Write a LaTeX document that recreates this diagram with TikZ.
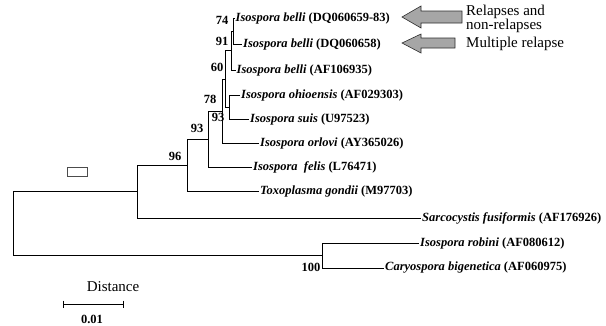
\documentclass[tikz,border=0pt]{standalone}
\usepackage{fontspec}
\setmainfont{Liberation Serif}
\begin{document}
\begin{tikzpicture}[x=1pt,y=-1pt,
  br/.style={line width=0.8pt},
  leaf/.style={anchor=west,inner sep=1pt,font=\fontsize{12.5}{14}\selectfont\bfseries},
  bs/.style={inner sep=0pt,font=\fontsize{12.5}{13}\selectfont\bfseries},
  bigarrow/.style={fill=gray!70,draw=gray!35!black,line width=0.6pt},
  side/.style={anchor=west,align=left,inner sep=0pt,font=\fontsize{15}{11}\selectfont}]
\useasboundingbox (0,0) rectangle (606,325);

% leaves
\node[leaf] (b1)   at (234.5,18)  {\textit{Isospora belli} (DQ060659-83)};
\node[leaf] (b2)   at (242,44)    {\textit{Isospora belli} (DQ060658)};
\node[leaf] (b3)   at (235.5,70)  {\textit{Isospora belli} (AF106935)};
\node[leaf] (ohio) at (240,95)    {\textit{Isospora ohioensis} (AF029303)};
\node[leaf] (suis) at (249,119)   {\textit{Isospora suis} (U97523)};
\node[leaf] (orl)  at (259,143)   {\textit{Isospora orlovi} (AY365026)};
\node[leaf] (fel)  at (252,167)   {\textit{Isospora\ \ felis} (L76471)};
\node[leaf] (tox)  at (259,191)   {\textit{Toxoplasma gondii} (M97703)};
\node[leaf] (sar)  at (421,218)   {\textit{Sarcocystis fusiformis} (AF176926)};
\node[leaf] (rob)  at (419,243)   {\textit{Isospora robini} (AF080612)};
\node[leaf] (car)  at (384,268)   {\textit{Caryospora bigenetica} (AF060975)};

% internal nodes
\coordinate (n74)  at (233,31);
\coordinate (n91)  at (231.5,50.5);
\coordinate (nos)  at (229,107);
\coordinate (nx)   at (225,79);
\coordinate (n93i) at (222,111);
\coordinate (n93)  at (208.5,139);
\coordinate (n96)  at (187,165);
\coordinate (n137) at (137,191.5);
\coordinate (n100) at (322,255.5);
\coordinate (root) at (13,223.5);

% branches
\draw[br] (n74) |- (b1.west);
\draw[br] (n74) |- (b2.west);
\draw[br] (n91) |- (n74);
\draw[br] (n91) |- (b3.west);
\draw[br] (nos) |- (ohio.west);
\draw[br] (nos) |- (suis.west);
\draw[br] (nx) |- (n91);
\draw[br] (nx) |- (nos);
\draw[br] (n93i) |- (nx);
\draw[br] (n93i) |- (orl.west);
\draw[br] (n93) |- (n93i);
\draw[br] (n93) |- (fel.west);
\draw[br] (n96) |- (n93);
\draw[br] (n96) |- (tox.west);
\draw[br] (n137) |- (n96);
\draw[br] (n137) |- (sar.west);
\draw[br] (n100) |- (rob.west);
\draw[br] (n100) |- (car.west);
\draw[br] (root) |- (n137);
\draw[br] (root) |- (n100);

% bootstrap values
\node[bs] (v74)  at (222,20)  {74};
\node[bs] (v91)  at (222,41)  {91};
\node[bs] (v60)  at (217,67)  {60};
\node[bs] (v78)  at (210,99)  {78};
\node[bs] (v93i) at (218,117) {93};
\node[bs] (v93)  at (197,128) {93};
\node[bs] (v96)  at (175,156) {96};
\node[bs] (v100) at (311,267) {100};

% small box
\node[draw=gray!60!black,line width=0.6pt,minimum width=20pt,minimum height=9pt,inner sep=0pt] (box) at (77,171.5) {};

% scale
\node[font=\fontsize{15}{16}\selectfont,inner sep=0pt] (dist) at (113,287) {Distance};
\coordinate (sb1) at (63,304);
\coordinate (sb2) at (123,304);
\draw[br] (sb1) -- (sb2);
\draw[br] (sb1) ++(0,-3.5) -- ++(0,7);
\draw[br] (sb2) ++(0,-3.5) -- ++(0,7);
\node[font=\fontsize{12.5}{13}\selectfont\bfseries,inner sep=0pt] (scl) at (92,319) {0.01};

% arrows
\draw[bigarrow] (402,17) -- (421,6) -- (421,11) -- (462,11) -- (462,23) -- (421,23) -- (421,28) -- cycle;
\draw[bigarrow] (402,43) -- (421,34) -- (421,38) -- (455,38) -- (455,48) -- (421,48) -- (421,53) -- cycle;
\node[side] (rel) at (466,19) {Relapses and\\non-relapses};
\node[side] (mul) at (466,44) {Multiple relapse};
\end{tikzpicture}
\end{document}
